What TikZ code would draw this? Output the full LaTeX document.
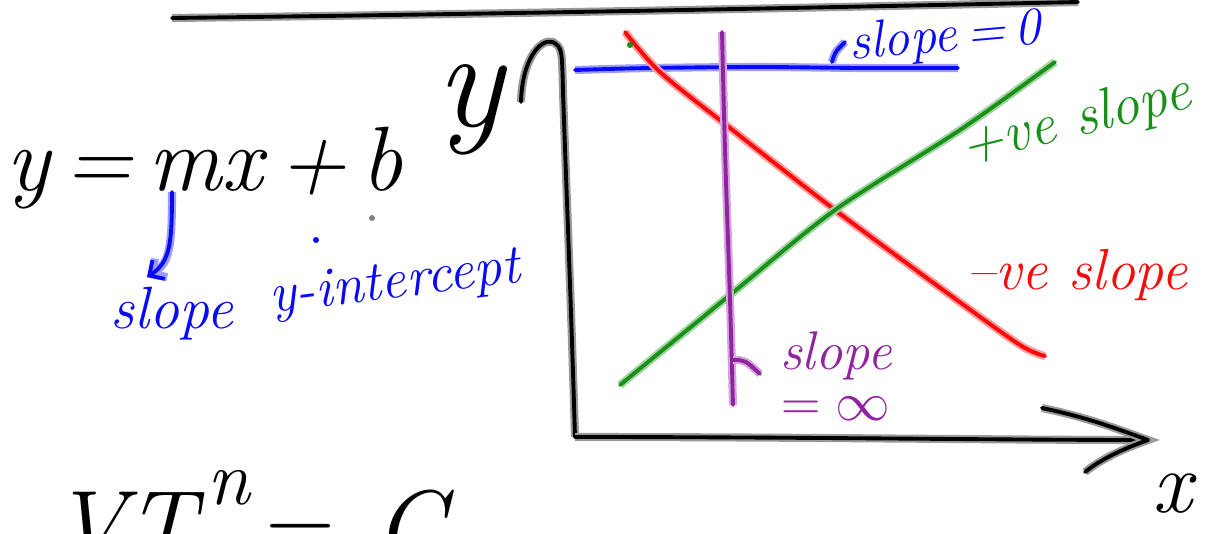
\documentclass[tikz,border=0pt]{standalone}
\usetikzlibrary{positioning,arrows.meta}
\definecolor{penblue}{RGB}{10,10,250}
\definecolor{penred}{RGB}{250,10,10}
\definecolor{pengreen}{RGB}{25,145,25}
\definecolor{penpurple}{RGB}{145,35,160}

\begin{document}
\begin{tikzpicture}[
    x=0.02cm, y=-0.02cm,
    pen/.style={
        draw=#1,
        line width=2.2pt,
        line cap=round,
        line join=round,
        preaction={draw=#1!40, line width=4.6pt}
    },
    hand/.style={
        text=#1,
        font=\itshape,
        inner sep=0pt
    }
]
\useasboundingbox (0,0) rectangle (1207,534);

% axes
\coordinate (origin) at (575,437);
\coordinate (ytip) at (563,92);
\coordinate (xtip) at (1148,440);
\draw[pen=black] (172,18) .. controls (500,14) and (800,8) .. (1078,2);
\draw[pen=black] (origin) .. controls (571,300) and (566,180) .. (ytip);
\draw[pen=black] (521,102) .. controls (522,60) and (540,38) .. (553,42) .. controls (562,48) .. (ytip);
\draw[pen=black] (origin) .. controls (800,437) and (1000,440) .. (xtip);
\draw[pen=black] (1042,408) .. controls (1090,418) and (1120,430) .. (xtip) .. controls (1120,450) and (1100,460) .. (1085,472);

\node[hand=black, font=\fontsize{80}{80}\selectfont\itshape] (ylbl) at (470,110) {y};
\node[hand=black, font=\fontsize{50}{50}\selectfont\itshape] (xlbl) at (1172,494) {x};

% lines
\draw[pen=penblue] plot[smooth] coordinates {(575,70) (650,68) (760,67) (860,68) (958,68)};
\draw[pen=penred] plot[smooth] coordinates {(625,32) (660,72) (730,128) (835,210) (950,295) (1020,345) (1045,356)};
\draw[pen=pengreen] plot[smooth] coordinates {(620,385) (730,295) (835,210) (960,130) (1055,62)};
\draw[pen=penpurple] plot[smooth] coordinates {(722,32) (725,150) (730,300) (733,405)};

% slope labels
\draw[pen=penblue] (832,62) .. controls (835,52) .. (845,42);
\node[hand=penblue, font=\fontsize{30}{30}\selectfont\itshape, rotate=5] (zero) at (945,38) {slope\,=\,0};
\node[hand=pengreen, font=\fontsize{33}{33}\selectfont\itshape, rotate=14] (pos) at (1076,122) {+ve slope};
\node[hand=penred, font=\fontsize{33}{33}\selectfont\itshape] (neg) at (1077,275) {--ve slope};
\node[hand=penpurple, font=\fontsize{31}{31}\selectfont\itshape, align=center] (inf) at (836,376) {slope\\[-2pt]\scalebox{1.25}{$=\infty$}};
\draw[pen=penpurple] (733,360) .. controls (745,360) .. (760,374);

% equation
\node[hand=black, font=\fontsize{52}{52}\selectfont\itshape, anchor=base west] (eqn) at (6,190) {y\,=\,mx\,+\,b};
\coordinate (mfoot) at (172,192);
\node[hand=penblue, font=\fontsize{34}{34}\selectfont\itshape] (slopelbl) at (172,314) {slope};
\node[hand=penblue, font=\fontsize{32}{32}\selectfont\itshape, rotate=7] (icpt) at (395,285) {y-intercept};
\draw[pen=penblue, -{Straight Barb[angle=90:9pt]}] (mfoot) .. controls (172,245) and (170,262) .. ([shift={(-25,-10)}]slopelbl.north);

% stray dots
\fill[penblue] (316,240) circle (3);
\fill[gray] (372,218) circle (3);
\fill[pengreen] (630,45) circle (3);

% cut-off line at the bottom
\node[hand=black, font=\fontsize{57}{57}\selectfont\itshape, anchor=base west] (gas) at (52,560)
    {VT\hspace{0.12em}\raisebox{0.55em}{\fontsize{44}{44}\selectfont n}\hspace{0.05em}=\hspace{0.45em}C};
\end{tikzpicture}
\end{document}
